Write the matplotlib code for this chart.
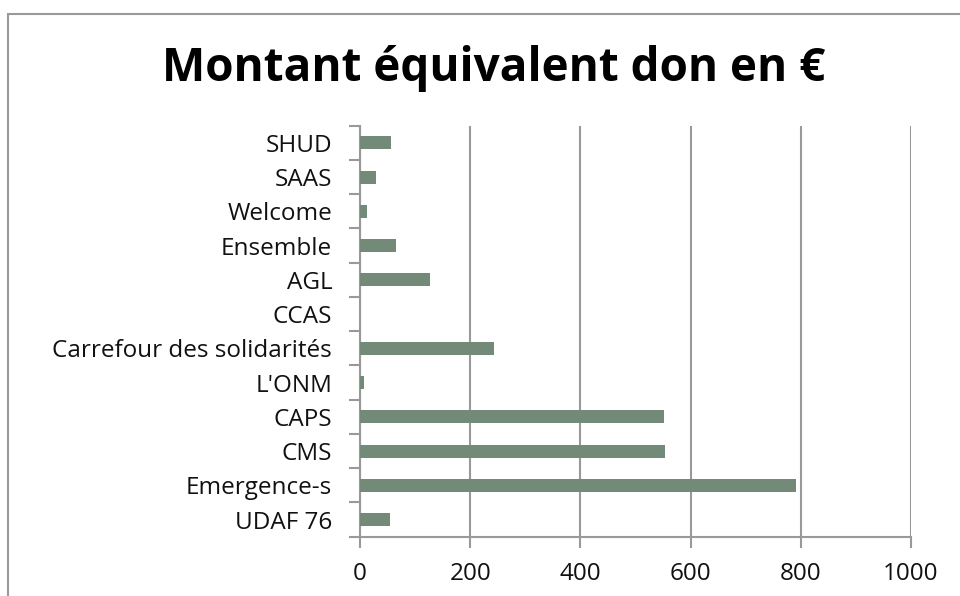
import matplotlib.pyplot as plt
import matplotlib.patches as patches
import numpy as np

# categories from bottom to top
categories = ['UDAF 76', 'Emergence-s', 'CMS', 'CAPS', "L'ONM", 'Carrefour des solidarités',
	'CCAS', 'AGL', 'Ensemble', 'Welcome', 'SAAS', 'SHUD']
montants = [55, 791, 553, 551, 8, 243, 0, 127, 66, 13, 29, 56]
xticks = [0, 200, 400, 600, 800, 1000]

plt.rcParams['font.family'] = ['Open Sans', 'DejaVu Sans']

fig = plt.figure(figsize=(9.6, 5.96), dpi=100)
ax = fig.add_axes([360/960, 1-536.7/596, (911-360)/960, (536.7-125.7)/596])

y = np.arange(len(categories))
ax.barh(y, montants, height=0.38, color='#738a79', zorder=3)

ax.set_xlim(0, 1000)
ax.set_ylim(-0.5, len(categories)-0.5)
ax.set_xticks(xticks)
ax.set_xticklabels([str(v) for v in xticks], fontsize=17.5, color='#111111')
ax.set_yticks(y)
ax.set_yticklabels(categories, fontsize=17.5, color='#111111')
ax.set_yticks(np.arange(len(categories)+1)-0.5, minor=True)
ax.tick_params(axis='y', which='major', length=0, pad=20)
ax.tick_params(axis='y', which='minor', length=8, width=1.5, color='#999999')
ax.tick_params(axis='x', which='major', length=8, width=1.5, color='#999999', pad=10)

ax.grid(True, axis='x', color='#999999', linewidth=1.5, zorder=0)
for s in ['top', 'right']:
	ax.spines[s].set_visible(False)
for s in ['left', 'bottom']:
	ax.spines[s].set_color('#999999')
	ax.spines[s].set_linewidth(1.5)

fig.text(494/960, 1-68/596, 'Montant équivalent don en €', fontsize=33, fontweight='bold',
	ha='center', va='center', color='#000000')

# chart frame (runs past the right and bottom edge)
frame = patches.Rectangle((8/960, -0.1), 1.2, 1.1-14/596, transform=fig.transFigure,
	fill=False, edgecolor='#999999', linewidth=1.5, clip_on=False)
fig.patches.append(frame)

fig.savefig('out.png', dpi=100)
